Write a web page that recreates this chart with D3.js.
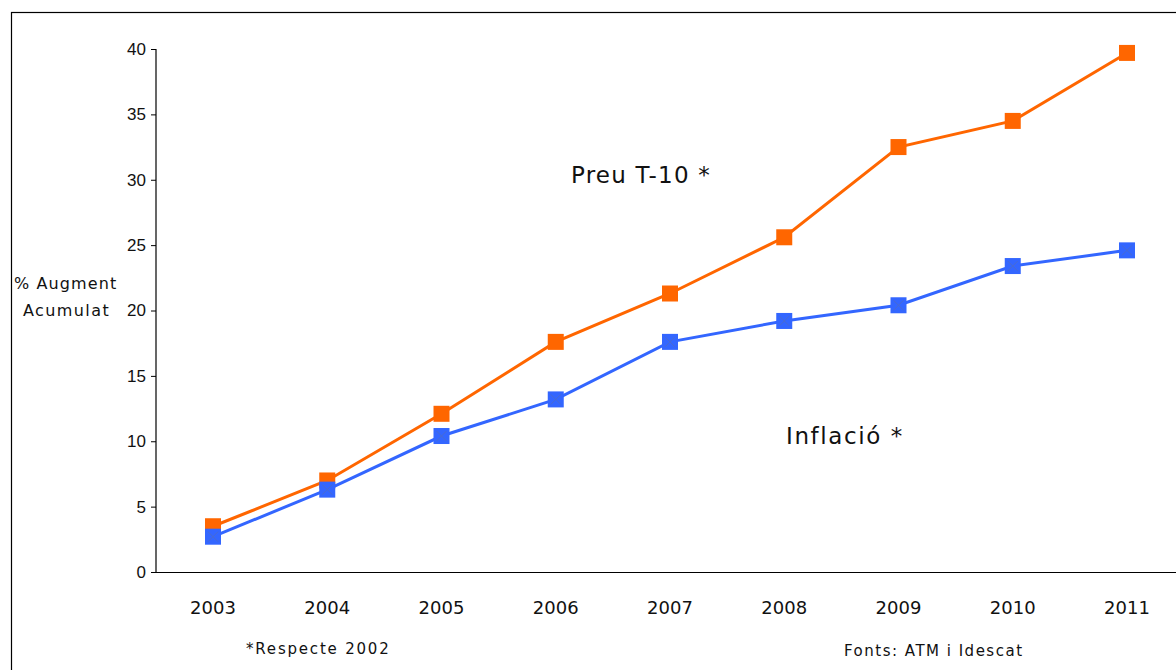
<!DOCTYPE html>
<html>
<head>
<meta charset="utf-8">
<script src="https://cdn.jsdelivr.net/npm/d3@7"></script>
<style>
  body { margin: 0; background: #fff; }
  text { font-family: "DejaVu Sans", sans-serif; fill: #111; }
</style>
</head>
<body>
<svg id="chart" width="1176" height="670"></svg>
<script>
var years = ["2003", "2004", "2005", "2006", "2007", "2008", "2009", "2010", "2011"];
var preuT10 = [3.5, 7.0, 12.1, 17.6, 21.3, 25.6, 32.5, 34.5, 39.7];
var inflacio = [2.7, 6.3, 10.4, 13.2, 17.6, 19.2, 20.4, 23.4, 24.6];
var yTicks = [0, 5, 10, 15, 20, 25, 30, 35, 40];

var svg = d3.select("#chart");

// outer frame
svg.append("rect")
    .attr("x", 11.5).attr("y", 12.5)
    .attr("width", 1200).attr("height", 700)
    .attr("fill", "none").attr("stroke", "#000").attr("stroke-width", 1.2);

var x = d3.scalePoint().domain(years).range([213, 1127]);
var y = d3.scaleLinear().domain([0, 40]).range([572, 49]);

// y axis
var yAxis = svg.append("g")
    .attr("transform", "translate(156,0)")
    .call(d3.axisLeft(y).tickValues(yTicks).tickSize(5).tickPadding(5));
yAxis.select(".domain").attr("stroke", "#000").attr("stroke-width", 1.2).attr("d", "M0,49V572");
yAxis.selectAll(".tick line").attr("stroke", "#000");
yAxis.selectAll(".tick text")
    .style("font-family", "'Liberation Sans', Arial, sans-serif")
    .style("font-size", "17px").attr("fill", "#111");

// x axis line
svg.append("line")
    .attr("x1", 156).attr("x2", 1176)
    .attr("y1", 572.5).attr("y2", 572.5)
    .attr("stroke", "#000").attr("stroke-width", 1.2);

svg.selectAll(".xlab")
    .data(years)
    .enter()
    .append("text")
    .attr("class", "xlab")
    .attr("x", function(d) { return x(d); })
    .attr("y", 614)
    .attr("text-anchor", "middle")
    .style("font-size", "18px")
    .text(function(d) { return d; });

var line = d3.line()
    .x(function(d, i) { return x(years[i]); })
    .y(function(d) { return y(d); });

function drawSeries(values, color, cross) {
    svg.append("path")
        .datum(values)
        .attr("d", line)
        .attr("fill", "none")
        .attr("stroke", color)
        .attr("stroke-width", 3);
    var g = svg.append("g");
    g.selectAll("rect")
        .data(values)
        .enter()
        .append("rect")
        .attr("x", function(d, i) { return x(years[i]) - 8; })
        .attr("y", function(d) { return y(d) - 8; })
        .attr("width", 16).attr("height", 16)
        .attr("fill", color);
    if (cross) {
        g.selectAll("path.cross")
            .data(values)
            .enter()
            .append("path")
            .attr("class", "cross")
            .attr("d", function(d, i) {
                var cx = x(years[i]), cy = y(d);
                return "M" + (cx - 5) + "," + (cy - 5) + "L" + (cx + 5) + "," + (cy + 5) +
                       "M" + (cx + 5) + "," + (cy - 5) + "L" + (cx - 5) + "," + (cy + 5);
            })
            .attr("stroke", "#5a6fb0").attr("stroke-width", 1).attr("opacity", 0.6);
    }
}

drawSeries(preuT10, "#ff6600", false);
drawSeries(inflacio, "#3366ff", true);

// series labels
svg.append("text").attr("x", 571).attr("y", 183).style("font-size", "23px").attr("letter-spacing", "1.2").text("Preu T-10 *");
svg.append("text").attr("x", 786).attr("y", 444).style("font-size", "23px").attr("letter-spacing", "1.6").text("Inflació *");

// y title
svg.append("text").attr("x", 14).attr("y", 289).style("font-size", "16px").attr("letter-spacing", "1.1").text("% Augment");
svg.append("text").attr("x", 23).attr("y", 316).style("font-size", "16px").attr("letter-spacing", "1.4").text("Acumulat");

// notes
svg.append("text").attr("x", 246).attr("y", 654).style("font-size", "15px").attr("letter-spacing", "1.8").text("*Respecte 2002");
svg.append("text").attr("x", 844).attr("y", 656).style("font-size", "15px").attr("letter-spacing", "1.5").text("Fonts: ATM i Idescat");
</script>
</body>
</html>
